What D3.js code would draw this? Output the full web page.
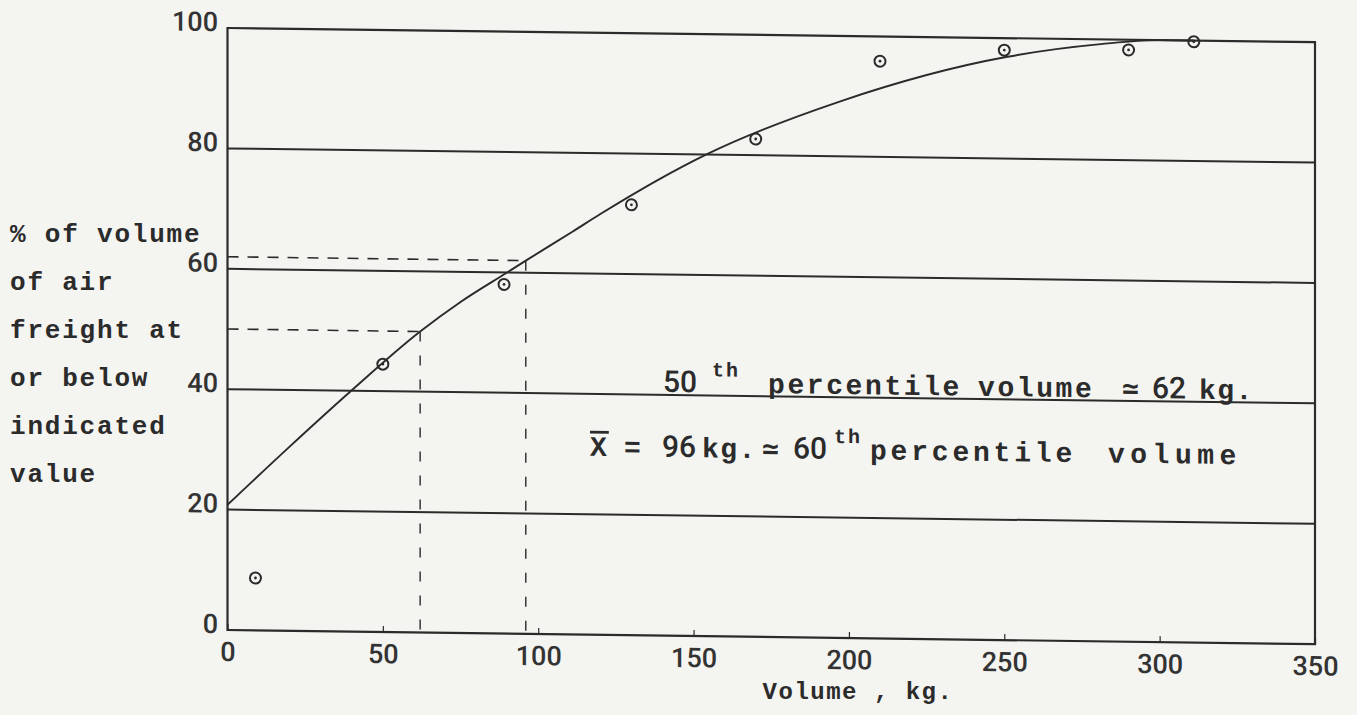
<!DOCTYPE html>
<html>
<head>
<meta charset="utf-8">
<script src="https://cdn.jsdelivr.net/npm/d3@7"></script>
<style>
  body { margin: 0; background: #f4f4f1; }
  svg { display: block; }
  .mono { font-family: "Liberation Mono", "DejaVu Sans Mono", monospace; font-weight: bold; }
  .num  { font-family: Roboto, "Liberation Sans", sans-serif; font-weight: 500; }
  text { white-space: pre; }
</style>
</head>
<body>
<svg id="chart" width="1357" height="715"></svg>
<script>
// Cumulative share of air-freight volume by shipment weight (kg)
const xTicks = [0, 50, 100, 150, 200, 250, 300, 350];
const yTicks = [0, 20, 40, 60, 80, 100];
const gridValues = [20, 40, 60, 80];

// observed points
const obsKg  = [9, 50, 89, 130, 170, 210, 250, 290, 311];
const obsPct = [8.7, 44.5, 58, 71.5, 82.7, 95.9, 98, 98.3, 99.8];

// smoothed fitted curve
const fitKg  = [0, 20, 40, 62, 75, 90, 96, 111, 120, 154, 197, 251, 281, 300, 311];
const fitPct = [20.8, 30.6, 40.1, 50, 55, 60, 62, 66.9, 69.9, 80, 89.1, 96.9, 99.2, 100, 100];

// reference guides: median volume and mean volume
const guideKg  = [62, 96];
const guidePct = [50, 62];

const yTitleLines = ["% of volume", "of air", "freight at", "or below", "indicated", "value"];
const xTitle = "Volume , kg.";

const W = 1357, H = 715;
const ink = "#2b2b2b";
const skew = 0.013, skewOrigin = 227.5;   // sheet is slightly sheared

const svg = d3.select("#chart");
svg.append("rect").attr("width", W).attr("height", H).attr("fill", "#f4f4f1");

const x = d3.scaleLinear().domain([0, 350]).range([227.5, 1315]);
const y = d3.scaleLinear().domain([0, 100]).range([630, 28]);

const g = svg.append("g")
  .attr("transform", `matrix(1,${skew},0,1,0,${-skew * skewOrigin})`);

// frame
g.append("rect")
  .attr("x", x(0)).attr("y", y(100))
  .attr("width", x(350) - x(0)).attr("height", y(0) - y(100))
  .attr("fill", "none").attr("stroke", ink).attr("stroke-width", 2.2);

// horizontal grid lines
g.selectAll("line.grid").data(gridValues).join("line")
  .attr("class", "grid")
  .attr("x1", x(0)).attr("x2", x(350))
  .attr("y1", d => y(d)).attr("y2", d => y(d))
  .attr("stroke", ink).attr("stroke-width", 2);

// x axis
const xAxis = g.append("g")
  .attr("transform", `translate(0,${y(0)})`)
  .call(d3.axisBottom(x).tickValues(xTicks).tickSizeInner(-6).tickSizeOuter(0).tickPadding(12));
xAxis.select(".domain").remove();
xAxis.selectAll(".tick line").attr("stroke", ink).attr("stroke-width", 1.2);
xAxis.selectAll(".tick text")
  .attr("class", "num").attr("font-size", 27).attr("fill", "#333");

// y axis
const yAxis = g.append("g")
  .attr("transform", `translate(${x(0)},0)`)
  .call(d3.axisLeft(y).tickValues(yTicks).tickSize(0).tickPadding(9.5));
yAxis.select(".domain").remove();
yAxis.selectAll(".tick text")
  .attr("class", "num").attr("font-size", 27).attr("fill", "#333").attr("dy", "0.1em");

// dashed guides
guideKg.forEach((kg, i) => {
  const p = guidePct[i];
  g.append("line")
    .attr("x1", x(0)).attr("x2", x(kg)).attr("y1", y(p)).attr("y2", y(p))
    .attr("stroke", ink).attr("stroke-width", 1.6).attr("stroke-dasharray", "11,9");
  g.append("line")
    .attr("x1", x(kg)).attr("x2", x(kg)).attr("y1", y(p)).attr("y2", y(0))
    .attr("stroke", ink).attr("stroke-width", 1.4).attr("stroke-dasharray", "10,14");
});

// fitted curve
const fit = fitKg.map((k, i) => [k, fitPct[i]]);
g.append("path")
  .datum(fit)
  .attr("fill", "none").attr("stroke", ink).attr("stroke-width", 1.9)
  .attr("d", d3.line().x(d => x(d[0])).y(d => y(d[1])).curve(d3.curveMonotoneX));

// observed points: ringed dots
const obs = obsKg.map((k, i) => [k, obsPct[i]]);
const pts = g.selectAll("g.pt").data(obs).join("g")
  .attr("class", "pt")
  .attr("transform", d => `translate(${x(d[0])},${y(d[1])})`);
pts.append("circle").attr("r", 5.5).attr("fill", "none").attr("stroke", ink).attr("stroke-width", 2);
pts.append("circle").attr("r", 1.4).attr("fill", ink);

// annotations: each run placed at its own column
function runs(yBase, parts) {
  const t = g.append("text").attr("y", yBase).attr("fill", ink);
  parts.forEach(p => {
    const s = t.append("tspan").attr("x", p.x).attr("y", yBase - (p.sup ? 16 : 0)).text(p.s);
    if (p.num) s.attr("class", "num").attr("font-size", 30);
    else s.attr("class", "mono").attr("font-size", p.sup ? 20 : 28).attr("letter-spacing", p.ls || 2);
    if (p.bar) s.style("text-decoration", "overline");
  });
}
runs(386, [
  { x: 663, s: "50", num: true },
  { x: 712, s: "th", sup: true },
  { x: 768, s: "percentile", ls: 2.6 },
  { x: 978, s: "volume", ls: 2.6 },
  { x: 1122, s: "≃" },
  { x: 1152, s: "62", num: true },
  { x: 1199, s: "kg.", ls: 1.5 }
]);
runs(451, [
  { x: 590, s: "X", bar: true },
  { x: 624, s: "=" },
  { x: 662, s: "96", num: true },
  { x: 702, s: "kg.", ls: 1.5 },
  { x: 762, s: "≃" },
  { x: 793, s: "60", num: true },
  { x: 834, s: "th", sup: true },
  { x: 870, s: "percentile", ls: 3.8 },
  { x: 1108, s: "volume", ls: 5.5 }
]);

// y title (stacked lines)
svg.append("g").selectAll("text").data(yTitleLines).join("text")
  .attr("class", "mono")
  .attr("x", 10)
  .attr("y", (d, i) => 242 + i * 48)
  .attr("font-size", 26).attr("letter-spacing", 1.8)
  .attr("fill", ink)
  .text(d => d);

// x title
svg.append("text")
  .attr("class", "mono")
  .attr("x", 858).attr("y", 699)
  .attr("text-anchor", "middle")
  .attr("font-size", 24).attr("letter-spacing", 1.5)
  .attr("fill", ink)
  .text(xTitle);
</script>
</body>
</html>
